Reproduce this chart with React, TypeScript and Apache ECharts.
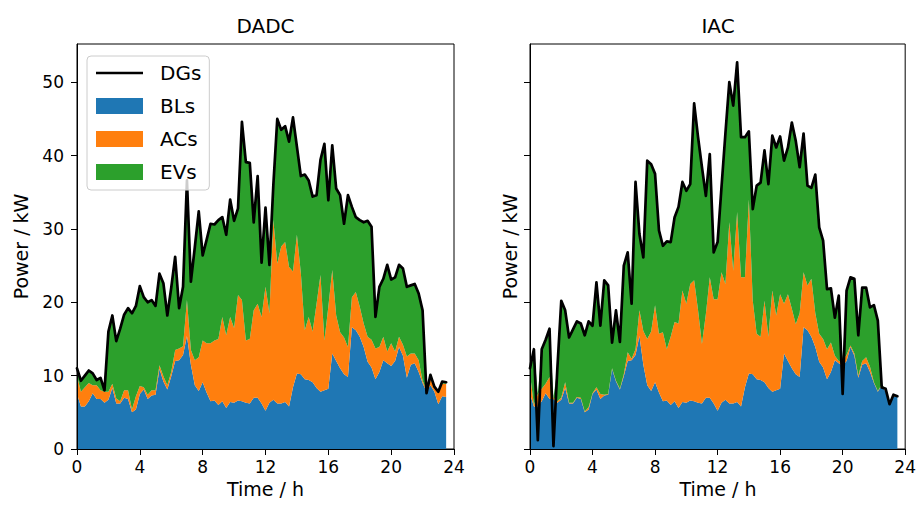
import React, { useEffect, useRef } from 'react';
import * as echarts from 'echarts';

const FONT = 'DejaVu Sans';

const hours = [
  0, 0.25, 0.5, 0.75, 1, 1.25, 1.5, 1.75, 2, 2.25,
  2.5, 2.75, 3, 3.25, 3.5, 3.75, 4, 4.25, 4.5, 4.75,
  5, 5.25, 5.5, 5.75, 6, 6.25, 6.5, 6.75, 7, 7.25,
  7.5, 7.75, 8, 8.25, 8.5, 8.75, 9, 9.25, 9.5, 9.75,
  10, 10.25, 10.5, 10.75, 11, 11.25, 11.5, 11.75, 12, 12.25,
  12.5, 12.75, 13, 13.25, 13.5, 13.75, 14, 14.25, 14.5, 14.75,
  15, 15.25, 15.5, 15.75, 16, 16.25, 16.5, 16.75, 17, 17.25,
  17.5, 17.75, 18, 18.25, 18.5, 18.75, 19, 19.25, 19.5, 19.75,
  20, 20.25, 20.5, 20.75, 21, 21.25, 21.5, 21.75, 22, 22.25,
  22.5, 22.75, 23, 23.25, 23.5,
];

const xTicks = [0, 4, 8, 12, 16, 20, 24];
const yTicks = [0, 10, 20, 30, 40, 50];

// Base loads (same in both panels)
const blsLoad = [
  7.5, 5.8, 5.8, 6.5, 7.6, 6.8, 6.8, 6.3, 6.7, 8.3,
  6.2, 6.2, 7.0, 6.8, 5.0, 5.4, 7.5, 8.1, 6.8, 7.3,
  7.4, 10.9, 9.2, 8.1, 9.9, 12.0, 12.1, 12.8, 15.4, 11.5,
  8.7, 7.9, 9.1, 7.7, 6.5, 6.6, 6.0, 6.5, 5.6, 6.4,
  6.3, 6.6, 6.5, 6.3, 6.2, 7.0, 7.0, 6.2, 5.2, 6.3,
  6.7, 6.2, 6.2, 6.4, 5.8, 8.4, 10.3, 10.2, 9.5, 9.4,
  9.1, 8.3, 7.8, 8.0, 8.2, 13.0, 12.0, 11.0, 10.2, 9.8,
  16.6, 16.2, 15.3, 13.9, 11.9, 11.1, 9.5, 10.5, 12.1, 11.7,
  11.3, 12.0, 13.9, 12.7, 9.7, 11.5, 11.7, 10.5, 9.0, 7.8,
  8.7, 7.8, 6.1, 7.2, 7.1,
];

// DADC panel
const dadcAcs = [
  2.5, 2.0, 2.6, 2.5, 1.1, 1.9, 1.2, 1.5, 1.1, 0.6,
  0.7, 0.3, 1.0, 1.2, 0.4, 1.8, 1.1, 0.3, 0.6, 0.7,
  0.6, 0.5, 0.7, 0.6, 0.6, 1.5, 1.6, 1.2, 4.9, 2.0,
  3.4, 4.6, 5.7, 6.7, 7.9, 8.2, 9.0, 11.5, 9.9, 11.6,
  10.2, 14.4, 13.8, 8.5, 8.8, 11.9, 12.8, 11.8, 16.9, 12.2,
  24.5, 19.1, 21.4, 21.8, 19.0, 15.8, 18.9, 13.8, 6.7, 8.6,
  6.9, 11.5, 15.9, 6.8, 11.2, 11.4, 6.2, 4.9, 5.0, 4.1,
  4.1, 5.2, 4.1, 3.2, 3.4, 3.8, 4.2, 3.4, 3.2, 1.6,
  3.1, 1.3, 1.4, 1.5, 2.9, 1.5, 1.3, 1.6, 0.3, 0.3,
  0.9, 0.5, 1.5, 1.7, 1.8,
];
const dadcEvs = [
  1.0, 1.5, 1.6, 1.7, 1.6, 0.7, 1.7, 0.2, 8.2, 9.3,
  7.8, 9.9, 10.3, 11.2, 13.1, 12.3, 13.6, 12.3, 12.6, 12.3,
  11.5, 12.5, 12.7, 9.5, 11.5, 12.7, 5.5, 8.1, 16.3, 9.3,
  15.4, 19.9, 11.6, 14.1, 16.3, 15.8, 16.2, 13.6, 13.7, 16.0,
  14.6, 11.8, 24.3, 24.3, 24.0, 12.0, 17.4, 7.4, 10.8, 6.6,
  4.8, 19.7, 15.9, 15.8, 17.1, 21.0, 12.0, 13.2, 21.2, 18.6,
  18.4, 14.8, 15.7, 26.8, 14.5, 17.0, 17.3, 18.7, 15.5, 20.7,
  12.3, 10.2, 11.8, 13.8, 15.8, 15.4, 4.3, 8.2, 7.9, 11.8,
  8.7, 10.1, 9.8, 10.4, 9.5, 9.3, 9.5, 9.1, 9.6, 0,
  0.5, 0.2, 0.2, 0.3, 0.2,
];
const dadcDgs = [
  11.0, 9.3, 10.0, 10.7, 10.3, 9.4, 9.7, 8.0, 16.0, 18.2,
  14.7, 16.4, 18.3, 19.2, 18.5, 19.5, 22.2, 20.7, 20.0, 20.3,
  19.5, 23.9, 22.6, 18.2, 22.0, 26.2, 19.2, 22.1, 36.6, 22.8,
  27.5, 32.4, 26.4, 28.5, 30.7, 30.6, 31.2, 31.6, 29.2, 34.0,
  31.1, 32.8, 44.6, 39.1, 39.0, 30.9, 37.2, 25.4, 32.9, 25.1,
  36.0, 45.0, 43.5, 44.0, 41.9, 45.2, 41.2, 37.2, 37.4, 36.6,
  34.4, 34.6, 39.4, 41.6, 33.9, 41.4, 35.5, 34.6, 30.7, 34.6,
  33.0, 31.6, 31.2, 30.9, 31.1, 30.3, 18.0, 22.1, 23.2, 25.1,
  23.1, 23.4, 25.1, 24.6, 22.1, 22.3, 22.5, 21.2, 18.9, 7.6,
  10.1, 8.5, 7.8, 9.2, 9.1,
];

// IAC panel
const iacAcs = [
  2.7, 0.2, 1.7, 1.7, 1.3, 3.0, 0.2, 0.2, 0.3, 0.8,
  0.1, 0.1, 0.1, 0.2, 0.1, 0.3, 0.1, 0.3, 0.7, 0.1,
  0.1, 0.1, 0.1, 0.1, 0.3, 1.2, 0.2, 0.8, 3.5, 4.6,
  6.3, 8.1, 10.5, 8.0, 9.4, 7.0, 9.3, 10.8, 11.5, 15.2,
  13.5, 15.9, 16.5, 12.6, 8.1, 11.4, 16.4, 14.2, 15.2, 17.8,
  15.8, 24.7, 18.1, 25.9, 17.6, 15.0, 23.7, 10.0, 6.2, 5.9,
  11.1, 7.0, 13.8, 10.2, 12.9, 6.8, 9.1, 8.1, 6.8, 8.7,
  7.5, 6.1, 7.9, 4.6, 3.8, 3.9, 4.1, 4.0, 0.6, 0.3,
  0.7, 0.8, 0.2, 0.3, 0.3, 0.5, 0.8, 0.7, 0.1, 0.1,
  0.1, 0.2, 0.1, 0.1, 0.1,
];
const iacEvs = [
  0.8, 7.6, 0, 5.4, 6.0, 6.6, 0, 4.5, 13.2, 9.8,
  8.9, 10.0, 10.3, 10.1, 10.4, 11.7, 9.2, 14.3, 9.3, 15.6,
  14.8, 3.5, 9.6, 6.4, 14.8, 13.6, 7.5, 22.8, 10.4, 10.0,
  24.3, 22.8, 17.9, 14.1, 11.8, 14.7, 12.9, 14.3, 15.9, 14.8,
  15.4, 13.6, 24.1, 23.6, 24.1, 16.1, 16.8, 6.4, 7.8, 11.6,
  20.5, 19.1, 22.5, 20.4, 19.1, 19.1, 9.3, 12.5, 20.2, 21.0,
  20.5, 20.8, 21.1, 22.9, 21.5, 19.5, 20.0, 25.4, 25.0, 19.9,
  18.9, 13.6, 12.4, 18.9, 14.5, 13.4, 8.2, 7.4, 5.2, 8.9,
  0, 8.8, 9.3, 10.2, 5.5, 10.0, 9.5, 8.1, 10.5, 9.6,
  0, 0.2, 0, 0.1, 0,
];
const iacDgs = [
  11.0, 13.6, 1.2, 13.6, 14.9, 16.4, 0.4, 11.0, 20.2, 18.9,
  15.2, 16.3, 17.4, 17.1, 15.5, 17.4, 16.8, 22.7, 16.8, 23.0,
  22.3, 14.5, 18.9, 14.6, 25.0, 26.8, 19.8, 36.4, 29.3, 26.1,
  39.3, 38.8, 37.5, 29.8, 27.7, 28.3, 28.2, 31.6, 33.0, 36.4,
  35.2, 36.1, 47.1, 42.5, 38.4, 34.5, 40.2, 26.8, 28.2, 35.7,
  43.0, 50.0, 46.8, 52.7, 42.5, 42.5, 43.3, 32.7, 35.9, 36.3,
  40.7, 36.1, 42.7, 41.1, 42.6, 39.3, 41.1, 44.5, 42.0, 38.4,
  43.0, 35.9, 35.6, 37.4, 30.2, 28.4, 21.8, 21.9, 17.9, 20.9,
  7.5, 21.6, 23.4, 23.2, 15.5, 22.0, 22.0, 19.3, 19.6, 17.5,
  8.4, 8.2, 6.1, 7.4, 7.2,
];

const panelTitles = ['DADC', 'IAC'];
const COLORS: Record<string, string> = { BLs: '#1f77b4', ACs: '#ff7f0e', EVs: '#2ca02c', DGs: '#000000' };

// data stored as [value, hour] so that stacking happens on the value (y) dimension
const pairs = (vals: number[]) => hours.map((h, i) => [vals[i], h]);

const GRID_TOP = 44;
const GRID_H = 405;
const grids = [
  { left: 77, width: 377 },
  { left: 530, width: 376 },
];

function buildOption() {
  const panels = [
    { acs: dadcAcs, evs: dadcEvs, dgs: dadcDgs },
    { acs: iacAcs, evs: iacEvs, dgs: iacDgs },
  ];
  const series: any[] = [];
  panels.forEach((p, i) => {
    const stack = 'stack' + i;
    const area = (name: string, vals: number[]) => ({
      name,
      type: 'line',
      xAxisIndex: i,
      yAxisIndex: i,
      stack,
      data: pairs(vals),
      encode: { x: 1, y: 0 },
      symbol: 'none',
      showSymbol: false,
      color: COLORS[name],
      itemStyle: { color: COLORS[name] },
      lineStyle: { width: 0, color: COLORS[name] },
      areaStyle: { color: COLORS[name], opacity: 1 },
      z: 2,
      silent: true,
    });
    series.push(area('BLs', blsLoad));
    series.push(area('ACs', p.acs));
    series.push(area('EVs', p.evs));
    series.push({
      name: 'DGs',
      type: 'line',
      xAxisIndex: i,
      yAxisIndex: i,
      data: pairs(p.dgs),
      encode: { x: 1, y: 0 },
      symbol: 'none',
      showSymbol: false,
      color: '#000',
      itemStyle: { color: '#000' },
      lineStyle: { width: 2.7, color: '#000', join: 'round', cap: 'round' },
      z: 3,
      silent: true,
    });
  });

  const graphic: any[] = [];
  grids.forEach((g, i) => {
    const cx = g.left + g.width / 2;
    graphic.push({
      type: 'text', x: cx, y: 26, silent: true,
      style: { text: panelTitles[i], align: 'center', verticalAlign: 'middle', fontSize: 20, fontFamily: FONT, fill: '#000' },
    });
    graphic.push({
      type: 'text', x: cx, y: 489, silent: true,
      style: { text: 'Time / h', align: 'center', verticalAlign: 'middle', fontSize: 19, fontFamily: FONT, fill: '#000' },
    });
    graphic.push({
      type: 'text', x: i === 0 ? 21 : 510, y: GRID_TOP + GRID_H / 2, rotation: Math.PI / 2, silent: true,
      style: { text: 'Power / kW', align: 'center', verticalAlign: 'middle', fontSize: 19, fontFamily: FONT, fill: '#000' },
    });
  });

  return {
    animation: false,
    backgroundColor: '#ffffff',
    textStyle: { fontFamily: FONT },
    grid: grids.map((g) => ({
      left: g.left, top: GRID_TOP, width: g.width, height: GRID_H,
      show: true, borderColor: '#000', borderWidth: 1, backgroundColor: 'transparent', containLabel: false,
    })),
    xAxis: grids.map((_, i) => ({
      type: 'value', gridIndex: i, min: 0, max: 24, interval: 4, z: 5,
      axisLine: { show: true, lineStyle: { color: '#000', width: 1 } },
      axisTick: { show: true, length: 6, inside: false, lineStyle: { color: '#000', width: 1 }, customValues: xTicks },
      axisLabel: { fontSize: 17, color: '#000', margin: 9, fontFamily: FONT, customValues: xTicks },
      splitLine: { show: false },
    })),
    yAxis: grids.map((_, i) => ({
      type: 'value', gridIndex: i, min: 0, max: 55.2, z: 5,
      axisLine: { show: true, lineStyle: { color: '#000', width: 1 } },
      axisTick: { show: true, length: 6, inside: false, lineStyle: { color: '#000', width: 1 }, customValues: yTicks },
      axisLabel: { show: i === 0, fontSize: 17, color: '#000', margin: 13, fontFamily: FONT, customValues: yTicks },
      splitLine: { show: false },
    })),
    legend: {
      show: true,
      orient: 'vertical',
      left: 87,
      top: 56,
      padding: [7, 8, 8, 9],
      itemWidth: 47,
      itemHeight: 16,
      itemGap: 13,
      borderColor: '#cccccc',
      borderWidth: 1,
      borderRadius: 4,
      backgroundColor: 'rgba(255,255,255,0.8)',
      selectedMode: false,
      textStyle: { fontSize: 20, color: '#000', fontFamily: FONT, padding: [0, 0, 0, 12] },
      data: [
        { name: 'DGs', icon: 'path://M0,0H47V2.7H0Z' },
        { name: 'BLs', icon: 'rect' },
        { name: 'ACs', icon: 'rect' },
        { name: 'EVs', icon: 'rect' },
      ],
    },
    series,
    graphic,
  };
}

export default function App() {
  const ref = useRef<HTMLDivElement>(null);
  useEffect(() => {
    if (!ref.current) return;
    const chart = echarts.init(ref.current, undefined, { renderer: 'svg' });
    chart.setOption(buildOption() as any);
    return () => chart.dispose();
  }, []);
  return (
    <div
      ref={ref}
      style={{ position: 'fixed', left: 0, top: 0, width: 919, height: 507, background: '#fff' }}
    />
  );
}
